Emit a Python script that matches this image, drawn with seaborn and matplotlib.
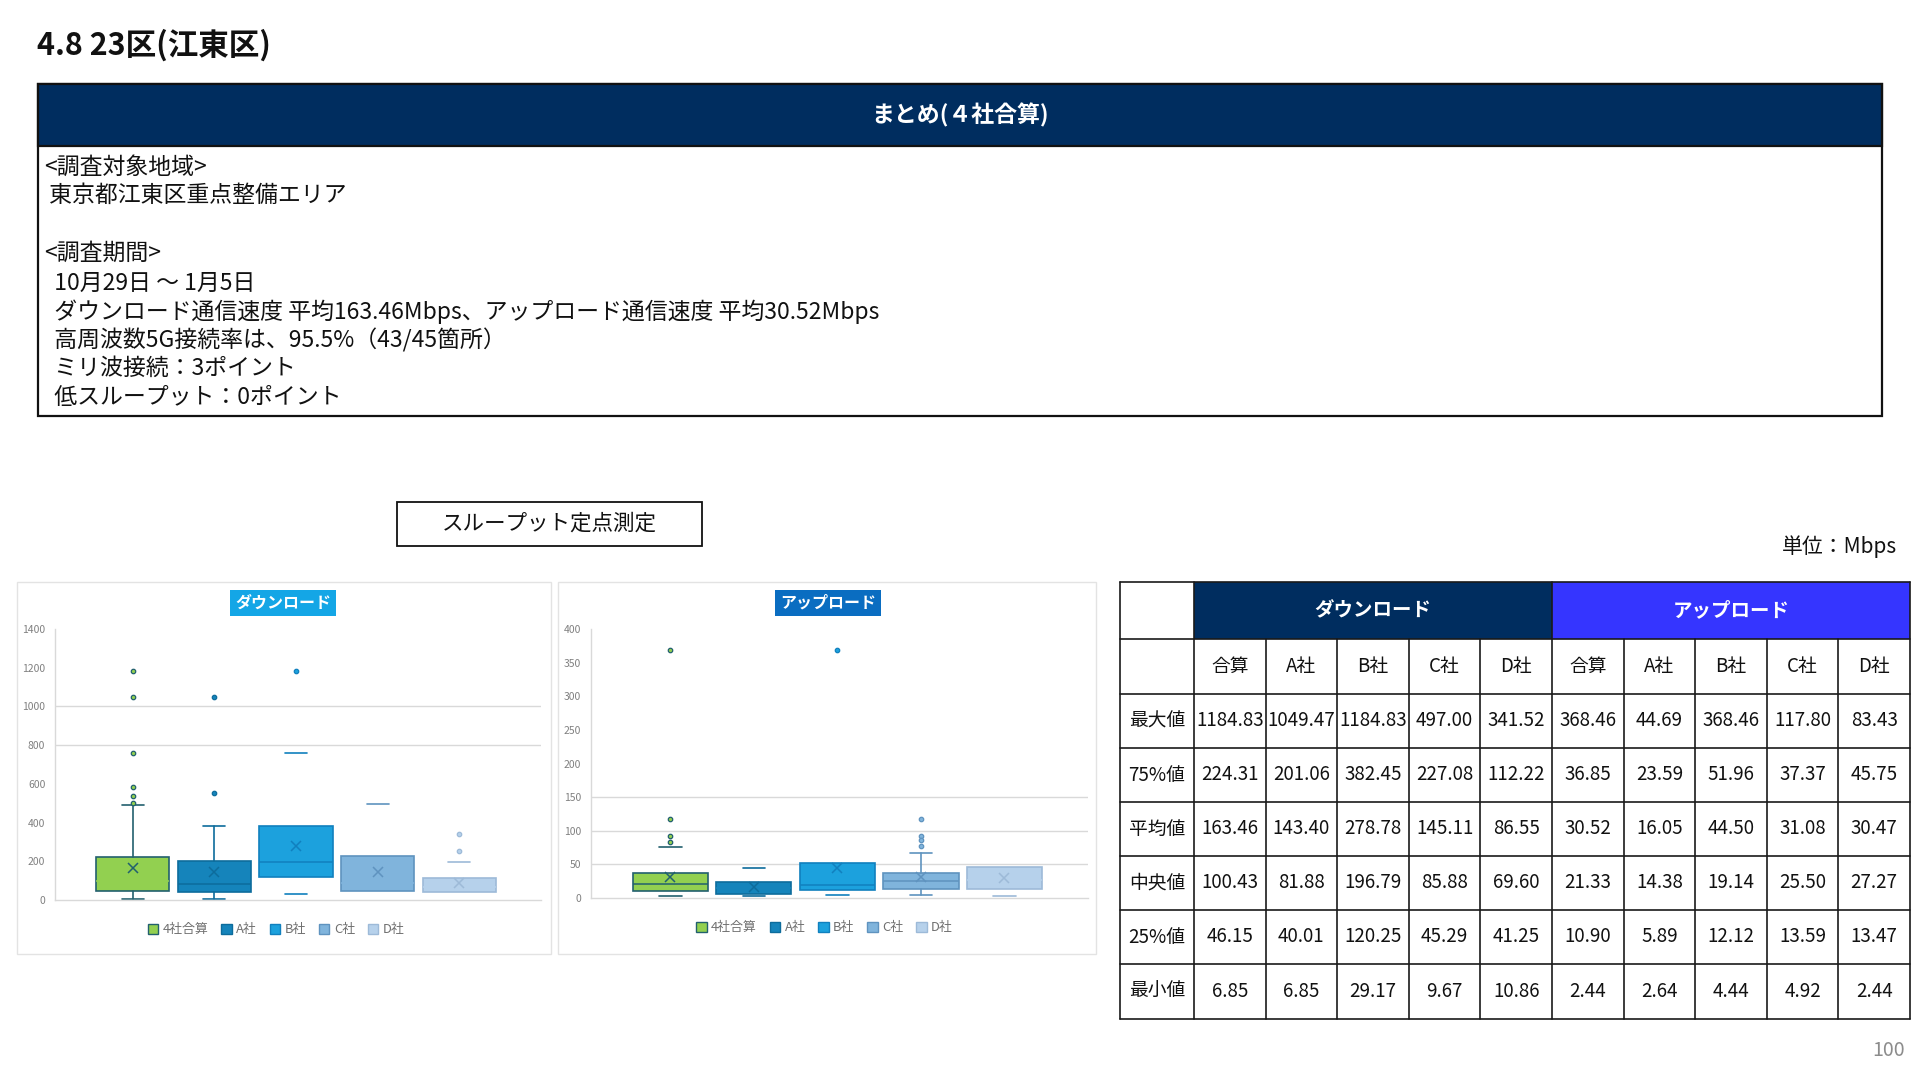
import matplotlib
matplotlib.use("Agg")
import matplotlib.pyplot as plt
import seaborn as sns
import numpy as np
from matplotlib.patches import Rectangle, Patch

sns.set_theme(style="white")
plt.rcParams['font.family'] = ['Noto Sans CJK JP', 'DejaVu Sans']

# ---------------- data ----------------
companies = ["4社合算", "A社", "B社", "C社", "D社"]
table_cols = ["合算", "A社", "B社", "C社", "D社"]
row_labels = ["最大値", "75%値", "平均値", "中央値", "25%値", "最小値"]

dl_max = [1184.83, 1049.47, 1184.83, 497.00, 341.52]
dl_q3 = [224.31, 201.06, 382.45, 227.08, 112.22]
dl_mean = [163.46, 143.40, 278.78, 145.11, 86.55]
dl_median = [100.43, 81.88, 196.79, 85.88, 69.60]
dl_q1 = [46.15, 40.01, 120.25, 45.29, 41.25]
dl_min = [6.85, 6.85, 29.17, 9.67, 10.86]

ul_max = [368.46, 44.69, 368.46, 117.80, 83.43]
ul_q3 = [36.85, 23.59, 51.96, 37.37, 45.75]
ul_mean = [30.52, 16.05, 44.50, 31.08, 30.47]
ul_median = [21.33, 14.38, 19.14, 25.50, 27.27]
ul_q1 = [10.90, 5.89, 12.12, 13.59, 13.47]
ul_min = [2.44, 2.64, 4.44, 4.92, 2.44]

# whisker tops and outliers
dl_whishi = [492, 382, 757, 497.00, 198]
dl_fliers = [[1184.83, 1049.47, 757, 583, 535, 500], [1049.47, 554], [1184.83], [], [341.52, 251]]
ul_whishi = [75.8, 44.69, 51.96, 66.9, 45.75]
ul_fliers = [[368.46, 117.80, 91.7, 83.8], [], [368.46], [117.80, 91.7, 86.7, 76.8], []]

dl_ticks = list(range(0, 1401, 200))
ul_ticks = list(range(0, 401, 50))
dl_grid = [800, 1000]
ul_grid = [50, 100, 150]

summary_lines = [
    "<調査対象地域>",
    " 東京都江東区重点整備エリア",
    "<調査期間>",
    "  10月29日 ～ 1月5日",
    "  ダウンロード通信速度 平均163.46Mbps、アップロード通信速度 平均30.52Mbps",
    "  高周波数5G接続率は、95.5%（43/45箇所）",
    "  ミリ波接続：3ポイント",
    "  低スループット：0ポイント",
]

# ---------------- style ----------------
fill = ['#92D050', '#1584BB', '#1CA1DD', '#80B4DC', '#B6D1EB']
edge = ['#22606E', '#0D6C9C', '#1180BE', '#5F93BF', '#9DBAD8']
NAVY = '#002D5F'
UPBLUE = '#3535FF'
W, H = 1920, 1080

fig = plt.figure(figsize=(19.2, 10.8), dpi=100)
fig.patch.set_facecolor('white')
bg = fig.add_axes([0, 0, 1, 1], zorder=3)
bg.set_xlim(0, W)
bg.set_ylim(H, 0)
bg.axis('off')
bg.patch.set_visible(False)

# title
bg.text(37, 45, "4.8 23区(江東区)", fontsize=22, fontweight='bold', va='center', ha='left', color='#111111')

# summary box
bg.add_patch(Rectangle((38, 84), 1844, 332, fc='white', ec='#111111', lw=1.6))
bg.add_patch(Rectangle((38, 84), 1844, 62, fc=NAVY, ec='#111111', lw=1.6))
bg.text(960, 115, "まとめ(４社合算)", color='white', fontsize=16.5, fontweight='bold', ha='center', va='center')
line_y = [167, 195, 253, 283, 312, 340, 368, 397]
for txt, y in zip(summary_lines, line_y):
    bg.text(44, y, txt, fontsize=16.5, ha='left', va='center', color='#111111')

# throughput label box
bg.add_patch(Rectangle((397, 502), 305, 44, fc='white', ec='#111111', lw=1.3))
bg.text(549, 524, "スループット定点測定", fontsize=15.5, ha='center', va='center', color='#111111')

# unit
bg.text(1897, 547, "単位：Mbps", fontsize=15, ha='right', va='center', color='#111111')

# page number
bg.text(1905, 1050, "100", fontsize=14, ha='right', va='center', color='#8C8C8C')

# chart panels (outline only)
bg.add_patch(Rectangle((17, 582), 534, 372, fc='none', ec='#E3E3E3', lw=1))
bg.add_patch(Rectangle((558, 582), 538, 372, fc='none', ec='#E3E3E3', lw=1))


def px_axes(l, t, r, b):
    return fig.add_axes([l / W, 1 - b / H, (r - l) / W, (b - t) / H], zorder=2)


def draw_boxes(ax, q1, med, q3, mean, lo, hi, fliers, ticks, grid_vals,
               show_whisk, show_med, show_caps, legend_x):
    stats = []
    for i in range(5):
        stats.append(dict(label=companies[i], q1=q1[i], med=med[i], q3=q3[i], mean=mean[i],
                          whislo=lo[i], whishi=hi[i], fliers=fliers[i]))
    art = ax.bxp(stats, positions=np.arange(1, 6), widths=0.9, capwidths=0.27,
                 patch_artist=True, showmeans=True, showfliers=True, manage_ticks=False)
    for i in range(5):
        b = art['boxes'][i]
        b.set_facecolor(fill[i]); b.set_edgecolor(edge[i]); b.set_linewidth(1.2)
        m = art['medians'][i]
        m.set_color(edge[i] if show_med[i] else fill[i]); m.set_linewidth(1.1)
        for j in range(2):
            w = art['whiskers'][2 * i + j]
            w.set_color(edge[i]); w.set_linewidth(1.2); w.set_visible(show_whisk[i])
            c = art['caps'][2 * i + j]
            c.set_color(edge[i]); c.set_linewidth(1.2); c.set_visible(show_caps[i][j])
        mn = art['means'][i]
        mn.set_marker('x'); mn.set_markeredgecolor(edge[i]); mn.set_markersize(7.5)
        mn.set_markeredgewidth(1.1); mn.set_markerfacecolor('none')
        fl = art['fliers'][i]
        fl.set_marker('o'); fl.set_markersize(3.2); fl.set_markerfacecolor(fill[i])
        fl.set_markeredgecolor(edge[i]); fl.set_markeredgewidth(0.9)
    ax.set_xlim(0.05, 6.0)
    ax.set_ylim(ticks[0], ticks[-1])
    ax.set_yticks(ticks)
    ax.set_yticklabels([str(t) for t in ticks])
    ax.set_xticks([])
    ax.grid(False)
    for g in grid_vals:
        ax.axhline(g, color='#D9D9D9', lw=1, zorder=0)
    for s in ['top', 'right']:
        ax.spines[s].set_visible(False)
    ax.spines['left'].set_color('#D9D9D9')
    ax.spines['bottom'].set_color('#D9D9D9')
    ax.spines['left'].set_linewidth(1)
    ax.spines['bottom'].set_linewidth(1)
    ax.tick_params(axis='y', labelsize=7.5, labelcolor='#808080', length=0, pad=7)
    ax.set_facecolor('white')
    handles = [Patch(facecolor=fill[i], edgecolor=edge[i], label=companies[i]) for i in range(5)]
    ax.legend(handles=handles, loc='center', bbox_to_anchor=(legend_x, -0.11), ncol=5,
              frameon=False, fontsize=9.3, labelcolor='#707070', handlelength=0.8,
              handleheight=0.8, handletextpad=0.35, columnspacing=1.0)


ax_dl = px_axes(55, 629, 541, 900)
draw_boxes(ax_dl, dl_q1, dl_median, dl_q3, dl_mean, dl_min, dl_whishi, dl_fliers, dl_ticks, dl_grid,
           show_whisk=[True, True, False, False, False],
           show_med=[False, True, True, False, False],
           show_caps=[(True, True), (True, True), (True, True), (False, True), (False, True)],
           legend_x=0.455)

ax_ul = px_axes(591, 629, 1088, 898)
draw_boxes(ax_ul, ul_q1, ul_median, ul_q3, ul_mean, ul_min, ul_whishi, ul_fliers, ul_ticks, ul_grid,
           show_whisk=[False, False, False, True, False],
           show_med=[True, False, True, True, False],
           show_caps=[(True, True), (True, True), (True, False), (True, True), (True, False)],
           legend_x=0.47)

# chart title labels
bg.text(283, 603, "ダウンロード", ha='center', va='center', color='white', fontsize=11.5, fontweight='bold',
        bbox=dict(boxstyle='square,pad=0.3', fc='#14A6E6', ec='none'), zorder=5)
bg.text(828, 603, "アップロード", ha='center', va='center', color='white', fontsize=11.5, fontweight='bold',
        bbox=dict(boxstyle='square,pad=0.3', fc='#0A6DC1', ec='none'), zorder=5)

# ---------------- table ----------------
x_edges = [1120, 1194] + [1194 + (1910 - 1194) * k / 10 for k in range(1, 11)]
y_edges = [582, 639, 694, 748, 802, 856, 910, 964, 1019]

bg.add_patch(Rectangle((x_edges[1], y_edges[0]), x_edges[6] - x_edges[1], y_edges[1] - y_edges[0],
                       fc=NAVY, ec='none'))
bg.add_patch(Rectangle((x_edges[6], y_edges[0]), x_edges[11] - x_edges[6], y_edges[1] - y_edges[0],
                       fc=UPBLUE, ec='none'))
bg.text((x_edges[1] + x_edges[6]) / 2, (y_edges[0] + y_edges[1]) / 2, "ダウンロード", color='white',
        fontsize=14, fontweight='bold', ha='center', va='center')
bg.text((x_edges[6] + x_edges[11]) / 2, (y_edges[0] + y_edges[1]) / 2, "アップロード", color='white',
        fontsize=14, fontweight='bold', ha='center', va='center')

lc = '#1A1A1A'
for y in y_edges:
    bg.plot([x_edges[0], x_edges[-1]], [y, y], color=lc, lw=1.2)
for k, x in enumerate(x_edges):
    top = y_edges[0] if k in (0, 1, 6, 11) else y_edges[1]
    bg.plot([x, x], [top, y_edges[-1]], color=lc, lw=1.2)

for c in range(10):
    xc = (x_edges[c + 1] + x_edges[c + 2]) / 2
    bg.text(xc, (y_edges[1] + y_edges[2]) / 2, table_cols[c % 5], fontsize=13.5, ha='center', va='center',
            color='#111111')

dl_rows = [dl_max, dl_q3, dl_mean, dl_median, dl_q1, dl_min]
ul_rows = [ul_max, ul_q3, ul_mean, ul_median, ul_q1, ul_min]
for r in range(6):
    yc = (y_edges[r + 2] + y_edges[r + 3]) / 2
    bg.text((x_edges[0] + x_edges[1]) / 2, yc, row_labels[r], fontsize=13.5, ha='center', va='center',
            color='#111111')
    vals = dl_rows[r] + ul_rows[r]
    for c in range(10):
        xc = (x_edges[c + 1] + x_edges[c + 2]) / 2
        bg.text(xc, yc, f"{vals[c]:.2f}", fontsize=13.5, ha='center', va='center', color='#111111')

fig.savefig("out.png", dpi=100, facecolor='white')
